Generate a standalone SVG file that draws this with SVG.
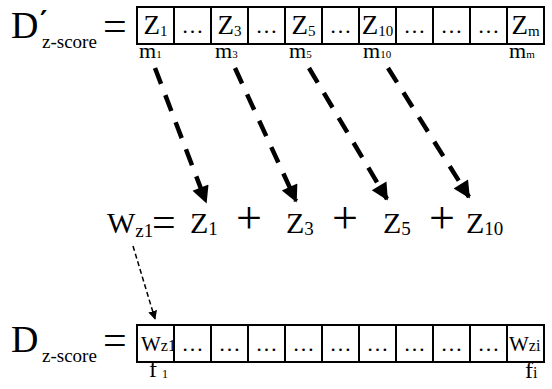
<svg xmlns="http://www.w3.org/2000/svg" width="552" height="389" viewBox="0 0 552 389">
<style>
text{font-family:"Liberation Serif","Times New Roman",serif;fill:#000}
.cell{fill:#fff;stroke:#000;stroke-width:2}
.big{font-size:38px}
.sub{font-size:19px}
.eqsign{font-size:42px}
.z{font-size:27px}
.zs{font-size:15px}
.el{font-size:22px}
.lab{font-size:22px}
.labs{font-size:11px}
.eq{font-size:30px}
.eqs{font-size:19px}
.op{font-size:46px}
.w{font-size:21px}
.ws{font-size:16px}
.thick{fill:none;stroke:#000;stroke-width:4.5;stroke-dasharray:17 12}
.thin{fill:none;stroke:#000;stroke-width:1.5;stroke-dasharray:5 3}
</style>
<defs>
<marker id="ah" viewBox="0 0 10 10" refX="9" refY="5" markerWidth="4.4" markerHeight="3.8" orient="auto" markerUnits="strokeWidth">
<path d="M0,0 L10,5 L0,10 z" fill="#000"/>
</marker>
<marker id="ahs" viewBox="0 0 10 10" refX="9" refY="5" markerWidth="6" markerHeight="6" orient="auto" markerUnits="strokeWidth">
<path d="M0,0 L10,5 L0,10 z" fill="#000"/>
</marker>
</defs>

<g id="top-label">
<text x="11" y="38" class="big">D</text>
<text x="40" y="31" style="font-family:'DejaVu Serif',serif;font-size:28px;font-weight:bold">′</text>
<text x="42" y="48" class="sub">z-score</text>
<text x="103" y="40" class="eqsign">=</text>
</g>

<g id="top-array">
<g id="t0"><rect class="cell" x="137" y="7" width="37" height="37"/><text x="155.5" y="34" text-anchor="middle" class="z">Z<tspan class="zs" dy="2">1</tspan></text></g>
<g id="t1"><rect class="cell" x="174" y="7" width="37" height="37"/><text x="192.5" y="33" text-anchor="middle" class="el">…</text></g>
<g id="t2"><rect class="cell" x="211" y="7" width="37" height="37"/><text x="229.5" y="34" text-anchor="middle" class="z">Z<tspan class="zs" dy="2">3</tspan></text></g>
<g id="t3"><rect class="cell" x="248" y="7" width="37" height="37"/><text x="266.5" y="33" text-anchor="middle" class="el">…</text></g>
<g id="t4"><rect class="cell" x="285" y="7" width="37" height="37"/><text x="303.5" y="34" text-anchor="middle" class="z">Z<tspan class="zs" dy="2">5</tspan></text></g>
<g id="t5"><rect class="cell" x="322" y="7" width="37" height="37"/><text x="340.5" y="33" text-anchor="middle" class="el">…</text></g>
<g id="t6"><rect class="cell" x="359" y="7" width="37" height="37"/><text x="377.5" y="34" text-anchor="middle" class="z">Z<tspan class="zs" dy="2">10</tspan></text></g>
<g id="t7"><rect class="cell" x="396" y="7" width="37" height="37"/><text x="414.5" y="33" text-anchor="middle" class="el">…</text></g>
<g id="t8"><rect class="cell" x="433" y="7" width="37" height="37"/><text x="451.5" y="33" text-anchor="middle" class="el">…</text></g>
<g id="t9"><rect class="cell" x="470" y="7" width="37" height="37"/><text x="488.5" y="33" text-anchor="middle" class="el">…</text></g>
<g id="t10"><rect class="cell" x="507" y="7" width="37" height="37"/><text x="525.5" y="34" text-anchor="middle" class="z">Z<tspan class="zs" dy="2">m</tspan></text></g>
</g>

<g id="top-labels">
<text x="139" y="58" class="lab">m<tspan class="labs">1</tspan></text>
<text x="215" y="58" class="lab">m<tspan class="labs">3</tspan></text>
<text x="289" y="58" class="lab">m<tspan class="labs">5</tspan></text>
<text x="363" y="58" class="lab">m<tspan class="labs">10</tspan></text>
<text x="509" y="58" class="lab">m<tspan class="labs">m</tspan></text>
</g>

<g id="equation">
<text x="107" y="233" class="eq">W<tspan class="eqs" dy="4">z1</tspan></text>
<text x="152" y="236" class="eqsign">=</text>
<text x="190" y="233" class="eq">Z<tspan class="eqs" dy="2">1</tspan></text>
<text x="236" y="233" class="op">+</text>
<text x="286" y="233" class="eq">Z<tspan class="eqs" dy="2">3</tspan></text>
<text x="332" y="233" class="op">+</text>
<text x="383" y="233" class="eq">Z<tspan class="eqs" dy="2">5</tspan></text>
<text x="429" y="233" class="op">+</text>
<text x="466" y="233" class="eq">Z<tspan class="eqs" dy="2">10</tspan></text>
</g>

<g id="bottom-label">
<text x="11" y="352" class="big">D</text>
<text x="42" y="362" class="sub">z-score</text>
<text x="103" y="354" class="eqsign">=</text>
</g>

<g id="bottom-array">
<g id="b0"><rect class="cell" x="137" y="325" width="37" height="37"/><text x="141" y="351" class="w">W<tspan class="ws">z1</tspan></text></g>
<g id="b1"><rect class="cell" x="174" y="325" width="37" height="37"/><text x="192.5" y="351" text-anchor="middle" class="el">…</text></g>
<g id="b2"><rect class="cell" x="211" y="325" width="37" height="37"/><text x="229.5" y="351" text-anchor="middle" class="el">…</text></g>
<g id="b3"><rect class="cell" x="248" y="325" width="37" height="37"/><text x="266.5" y="351" text-anchor="middle" class="el">…</text></g>
<g id="b4"><rect class="cell" x="285" y="325" width="37" height="37"/><text x="303.5" y="351" text-anchor="middle" class="el">…</text></g>
<g id="b5"><rect class="cell" x="322" y="325" width="37" height="37"/><text x="340.5" y="351" text-anchor="middle" class="el">…</text></g>
<g id="b6"><rect class="cell" x="359" y="325" width="37" height="37"/><text x="377.5" y="351" text-anchor="middle" class="el">…</text></g>
<g id="b7"><rect class="cell" x="396" y="325" width="37" height="37"/><text x="414.5" y="351" text-anchor="middle" class="el">…</text></g>
<g id="b8"><rect class="cell" x="433" y="325" width="37" height="37"/><text x="451.5" y="351" text-anchor="middle" class="el">…</text></g>
<g id="b9"><rect class="cell" x="470" y="325" width="37" height="37"/><text x="488.5" y="351" text-anchor="middle" class="el">…</text></g>
<g id="b10"><rect class="cell" x="507" y="325" width="37" height="37"/><text x="509" y="351" class="w">W<tspan class="ws">zi</tspan></text></g>
</g>

<g id="bottom-labels">
<text x="149" y="377" style="font-size:24px">f<tspan style="font-size:12px" dx="5" dy="1">1</tspan></text>
<text x="525" y="378" style="font-size:24px">f<tspan style="font-size:16px">i</tspan></text>
</g>

<g id="connectors">
<path class="thick" d="M155,68 L206,202" marker-end="url(#ah)"/>
<path class="thick" d="M235,68 L296,201" marker-end="url(#ah)"/>
<path class="thick" d="M309,68 L387,199" marker-end="url(#ah)"/>
<path class="thick" d="M388,68 L469,197" marker-end="url(#ah)"/>
<path class="thin" d="M133,246 L155,319" marker-end="url(#ahs)"/>
</g>
</svg>
